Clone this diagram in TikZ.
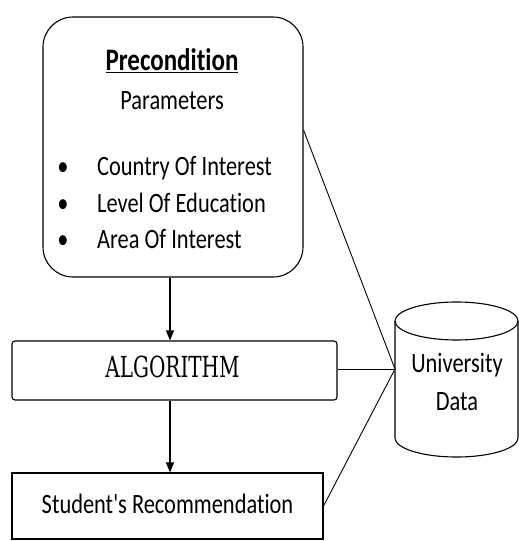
\documentclass[tikz,border=0pt]{standalone}
\usepackage{fontspec}
\setmainfont[Ligatures=CommonOff]{Carlito}
\newfontfamily\plaincarlito[Ligatures=CommonOff]{Carlito}
\newfontfamily\slabfont{DejaVu Serif}
\usetikzlibrary{arrows.meta}
\newcommand{\vstr}[2][1.25]{\scalebox{1}[#1]{#2}}
\begin{document}
\begin{tikzpicture}[x=1pt,y=1pt,
  box/.style={draw, line width=1.1pt, fill=white, inner sep=0pt},
  txt/.style={font=\fontsize{22.4}{26}\selectfont, inner sep=0pt, anchor=base},
  conn/.style={line width=0.9pt},
  flow/.style={line width=1.1pt, -{Triangle[width=8pt,length=10pt]}}]
\useasboundingbox (0,0) rectangle (519,-541);
% boxes
\node[box, rounded corners=30pt, minimum width=260pt, minimum height=260pt] (pre) at (173,-147) {};
\node[box, rounded corners=3pt, minimum width=325pt, minimum height=59pt] (alg) at (174.5,-370.5) {};
\node[box, minimum width=311pt, minimum height=66pt] (rec) at (167.5,-506) {};
% cylinder
\fill[white] (395,-321) -- (395,-438) arc[start angle=180, end angle=360, x radius=61.5, y radius=19] -- (518,-321) -- cycle;
\draw[line width=1.1pt] (395,-321) -- (395,-438) arc[start angle=180, end angle=360, x radius=61.5, y radius=19] -- (518,-321);
\draw[line width=1.1pt] (456.5,-321) ellipse[x radius=61.5, y radius=19];
\node[txt] (uni) at (457,-372) {\vstr{University}};
\node[txt] (data) at (457,-410) {\vstr{Data}};
\coordinate (hub) at (395,-369);
% texts in precondition box
\node[txt, font=\fontsize{25}{30}\selectfont\bfseries] (ptitle) at (172,-70.5) {\vstr{\underline{Precondition}}};
\node[txt] (params) at (172,-109) {\vstr{Parameters}};
\node[txt, anchor=base west] (b1) at (97,-175) {\vstr{Country Of Interest}};
\node[txt, anchor=base west] (b2) at (97,-212) {\vstr{Level Of Education}};
\node[txt, anchor=base west] (b3) at (97,-248) {\vstr{Area Of Interest}};
\node[txt] (d1) at (63,-175) {\vstr{•}};
\node[txt] (d2) at (63,-212) {\vstr{•}};
\node[txt] (d3) at (63,-248) {\vstr{•}};
% algorithm and recommendation texts
\node[txt, font=\fontsize{20}{24}\slabfont] (algt) at (172.5,-377.5) {\vstr[1.45]{ALGORITHM}};
\node[txt] (rect) at (167.5,-513) {\vstr{\plaincarlito Student's Recommendation}};
% flow arrows
\draw[flow] (pre.south -| 170,0) -- (alg.north -| 170,0);
\draw[flow] (alg.south -| 170,0) -- (rec.north -| 170,0);
% connectors
\draw[conn] (pre.east |- 0,-130) -- (hub);
\draw[conn] (alg.east |- 0,-369) -- (hub);
\draw[conn] (rec.east |- 0,-506) -- (hub);
\end{tikzpicture}
\end{document}
